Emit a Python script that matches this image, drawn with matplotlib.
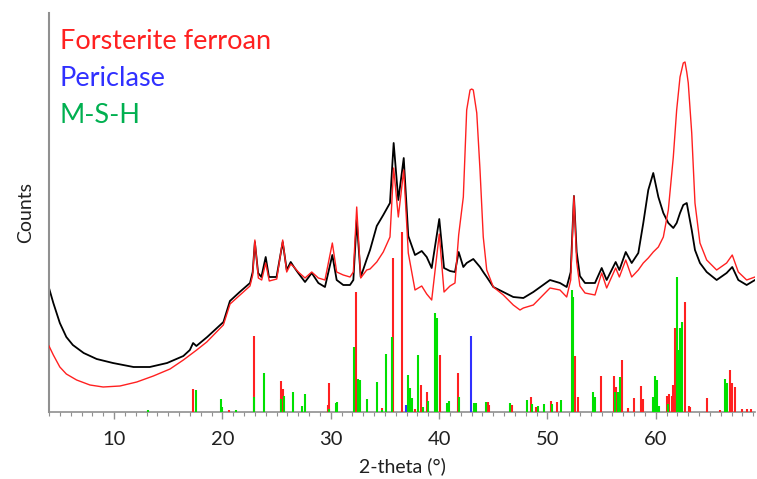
import matplotlib
matplotlib.use("Agg")
import matplotlib.pyplot as plt
from matplotlib.ticker import MultipleLocator

# ---- measured pattern (black) ----
black_2theta = [4.0, 4.4, 5.0, 5.6, 6.2, 7.2, 8.4, 9.9, 11.8, 13.3,
                14.9, 16.4, 17.0, 17.3, 17.6, 18.6, 20.1, 20.7, 21.6, 22.55,
                22.8, 23.0, 23.3, 23.6, 24.0, 24.3, 25.0, 25.57, 25.94, 26.31,
                26.61, 27.0, 27.63, 28.25, 28.86, 29.47, 30.15, 30.55, 31.16, 31.78,
                32.09, 32.4, 32.77, 33.3, 33.63, 34.25, 34.85, 35.47, 35.81, 36.24,
                36.74, 37.16, 37.78, 38.4, 38.86, 39.32, 40.02, 40.46, 41.01, 41.47,
                41.81, 42.24, 42.55, 43.16, 43.78, 44.08, 44.4, 45.01, 45.93, 46.85,
                47.78, 48.7, 50.24, 51.16, 51.78, 52.15, 52.45, 52.7, 53.0, 53.47,
                54.39, 55.01, 55.47, 56.3, 56.64, 57.23, 57.78, 58.39, 58.85, 59.31,
                59.77, 60.24, 60.7, 61.16, 61.62, 61.93, 62.24, 62.54, 62.86, 63.32,
                63.62, 64.08, 64.7, 65.62, 66.54, 67.06, 67.62, 68.39, 69.16]
black_counts = [124, 109, 89, 75, 67, 59, 53, 49, 45, 45,
                49, 56, 62, 69, 66, 75, 90, 111, 120, 129,
                140, 170, 139, 135, 155, 135, 135, 170, 142, 150,
                145, 139, 130, 139, 129, 125, 157, 132, 127, 127,
                132, 192, 135, 152, 162, 186, 197, 209, 269, 212,
                254, 176, 157, 161, 155, 144, 193, 144, 141, 140,
                160, 145, 149, 153, 145, 140, 135, 125, 120, 115,
                114, 120, 132, 129, 125, 140, 216, 160, 136, 129,
                129, 144, 132, 150, 142, 160, 149, 159, 189, 222,
                239, 215, 199, 189, 184, 189, 199, 207, 209, 182,
                162, 149, 140, 132, 139, 145, 132, 127, 132]

# ---- measured pattern (red) ----
red_2theta = [4.0, 4.4, 5.0, 5.6, 6.55, 7.78, 9.0, 10.55, 12.1, 13.63,
              15.17, 16.4, 17.63, 18.56, 20.09, 20.71, 21.63, 22.55, 22.8, 23.0,
              23.32, 23.63, 24.0, 24.33, 25.02, 25.57, 25.94, 26.31, 26.61, 27.01,
              27.63, 28.25, 28.86, 29.47, 30.15, 30.55, 31.16, 31.78, 32.09, 32.4,
              32.77, 33.32, 33.63, 34.25, 34.85, 35.47, 35.81, 36.24, 36.74, 37.16,
              37.78, 38.4, 38.86, 39.32, 40.02, 40.46, 41.01, 41.47, 41.81, 42.24,
              42.55, 42.86, 43.01, 43.16, 43.48, 43.78, 44.08, 44.4, 45.01, 45.93,
              46.85, 47.47, 47.78, 48.7, 50.24, 51.16, 51.78, 52.15, 52.45, 52.7,
              53.0, 53.47, 54.39, 55.01, 55.47, 56.3, 56.64, 57.23, 57.78, 58.39,
              58.85, 59.31, 59.77, 60.24, 60.7, 61.16, 61.62, 61.93, 62.24, 62.54,
              62.7, 62.86, 63.0, 63.32, 63.62, 64.08, 64.7, 65.62, 66.54, 67.06,
              67.62, 68.39, 69.16]
red_counts = [66, 57, 45, 38, 32, 27, 25, 26, 30, 36,
              43, 52, 62, 70, 87, 108, 117, 126, 137, 172,
              134, 132, 149, 131, 133, 172, 140, 148, 145, 140,
              134, 140, 134, 132, 169, 140, 137, 135, 140, 205,
              134, 142, 143, 150, 160, 175, 244, 195, 242, 159,
              122, 126, 118, 112, 178, 120, 126, 129, 177, 215,
              302, 322, 323, 322, 299, 242, 175, 142, 125, 117,
              107, 102, 104, 107, 124, 122, 115, 132, 216, 150,
              126, 119, 117, 139, 124, 144, 135, 152, 135, 142,
              149, 154, 160, 165, 175, 202, 255, 302, 335, 349,
              350, 340, 329, 279, 209, 169, 152, 142, 149, 157,
              140, 132, 135]

# ---- reference stick patterns ----
forsterite_pos = [17.32, 20.61, 22.89, 25.41, 25.57, 29.75, 29.82, 32.34, 34.71, 35.72,
                  36.55, 37.78, 38.31, 38.86, 40.09, 41.78, 44.54, 44.63, 46.70, 48.46,
                  48.92, 50.33, 50.91, 52.55, 52.85, 54.92, 56.15, 56.30, 56.86, 57.47,
                  57.99, 58.64, 58.85, 61.07, 61.22, 61.47, 61.62, 61.78, 62.09, 62.66,
                  63.03, 63.19, 64.72, 65.95, 66.87, 67.03, 67.34, 67.95, 68.42, 68.79]
forsterite_int = [23, 2, 76, 31, 23, 7, 29, 120, 4, 154,
                  180, 3, 27, 20, 57, 39, 10, 7, 7, 15,
                  5, 11, 10, 56, 15, 36, 36, 25, 52, 4,
                  14, 26, 13, 16, 18, 16, 27, 84, 45, 110,
                  6, 5, 14, 2, 42, 29, 25, 3, 3, 3]

periclase_pos = [36.95, 42.95]
periclase_int = [7, 76]

msh_pos = [13.17, 17.54, 19.85, 20.0, 21.23, 22.95, 23.87, 25.45, 25.72, 26.49,
           27.38, 27.60, 29.88, 30.46, 30.61, 32.18, 32.55, 32.70, 33.32, 34.25,
           34.76, 35.10, 35.63, 37.16, 37.32, 37.47, 38.03, 38.49, 38.95, 39.63,
           39.84, 40.70, 40.95, 41.84, 43.25, 43.41, 44.33, 46.55, 48.15, 48.55,
           49.10, 49.68, 50.39, 51.25, 52.24, 52.39, 54.24, 54.39, 56.22, 56.54,
           56.70, 59.72, 59.93, 60.09, 60.30, 61.16, 61.93, 62.15, 62.25, 62.40,
           66.41, 66.56]
msh_int = [2, 22, 13, 5, 2, 15, 39, 13, 16, 20,
           6, 18, 3, 9, 10, 65, 33, 32, 13, 30,
           2, 58, 75, 37, 24, 14, 57, 5, 11, 99,
           94, 9, 11, 15, 9, 9, 10, 9, 12, 8,
           6, 8, 8, 12, 122, 115, 20, 15, 20, 20,
           35, 15, 36, 32, 6, 8, 135, 62, 84, 90,
           33, 29]

legend_labels = ["Forsterite ferroan", "Periclase", "M-S-H"]
x_ticks = [10, 20, 30, 40, 50, 60]

FONT = "Lato"
RED = "#ff2020"
GREEN = "#00e000"
BLUE = "#3030ff"

fig = plt.figure(figsize=(7.57, 4.79), dpi=100)
W, H = 757, 479
ax = fig.add_axes([49 / W, 67 / H, 706 / W, 399 / H])

ax.plot(black_2theta, black_counts, color="black", lw=1.3, zorder=2)
ax.plot(red_2theta, red_counts, color=RED, lw=1.0, zorder=3)

ax.vlines(forsterite_pos, 0, forsterite_int, color=RED, lw=1.5, zorder=4)
ax.vlines(msh_pos, 0, msh_int, color=GREEN, lw=1.5, zorder=5)
ax.vlines(periclase_pos, 0, periclase_int, color=BLUE, lw=1.5, zorder=6)

ax.set_xlim(4.0, 69.16)
ax.set_ylim(0, 399)

for s in ["top", "right"]:
    ax.spines[s].set_visible(False)
ax.spines["left"].set_color("#909090")
ax.spines["left"].set_linewidth(1.5)
ax.spines["bottom"].set_color("#909090")
ax.spines["bottom"].set_linewidth(1.2)

ax.set_yticks([])
ax.set_xticks(x_ticks)
ax.xaxis.set_minor_locator(MultipleLocator(1))
ax.tick_params(axis="x", which="major", length=5, width=1.0, color="#909090",
               pad=9, labelsize=14.5, labelcolor="#202020")
ax.tick_params(axis="x", which="minor", length=3, width=0.8, color="#909090")
for lab in ax.get_xticklabels():
    lab.set_fontfamily(FONT)

ax.set_xlabel("2-theta (°)", fontsize=14, family=FONT, color="#202020", labelpad=6)
ax.set_ylabel("Counts", fontsize=14, family=FONT, color="#202020", labelpad=11)

colors = [RED, BLUE, "#00b050"]
baselines = [49, 86, 123]
for lab, c, b in zip(legend_labels, colors, baselines):
    fig.text(60 / W, 1 - b / H, lab, color=c, fontsize=19.5, family=FONT, va="baseline", ha="left")

fig.savefig("out.png", dpi=100)
